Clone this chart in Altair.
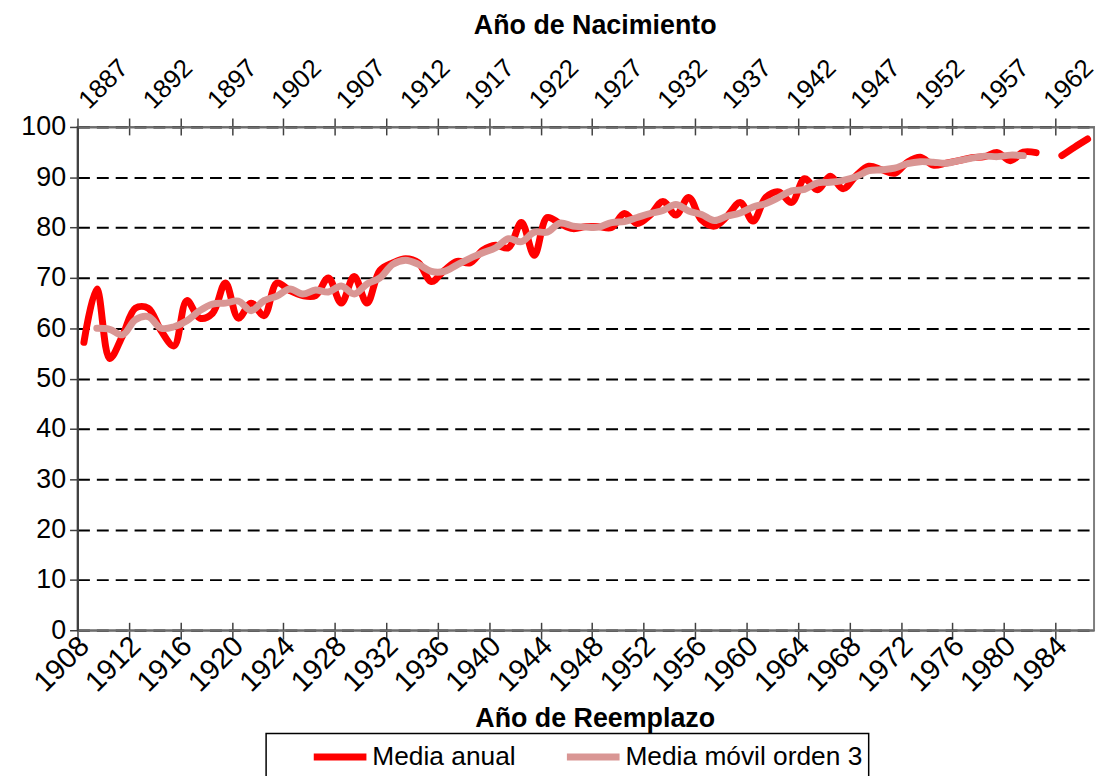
import altair as alt
import pandas as pd

# ---------------- data ----------------
anios = list(range(1908, 1987))
media_anual = [57.2, 67.8, 54.0, 58.5, 64.0, 64.0, 59.5, 56.5, 65.5, 62.0,   # 1908-1917
               63.0, 69.0, 62.0, 65.0, 62.5, 69.0, 67.5, 66.5, 66.5, 70.0,   # 1918-1927
               65.0, 70.3, 65.0, 71.5, 73.0, 73.8, 73.0, 69.3, 71.5, 73.3,   # 1928-1937
               73.0, 75.5, 76.5, 76.0, 81.0, 74.5, 82.0, 80.8, 79.8, 80.2,   # 1938-1947
               80.2, 80.0, 82.8, 80.8, 82.5, 85.2, 82.5, 86.0, 81.5, 80.3,   # 1948-1957
               82.3, 85.0, 81.3, 86.0, 87.1, 85.0, 89.7, 87.5, 90.2, 87.7,   # 1958-1967
               90.3, 92.2, 91.5, 90.8, 93.0, 94.0, 92.4, 92.8, 93.3, 93.9,   # 1968-1977
               94.1, 94.9, 93.3, 95.0, 94.9, None, 94.3, 96.0, 97.6]         # 1978-1986

anios_movil = list(range(1909, 1982))
media_movil = [60.0, 59.8, 58.7, 61.7, 62.3, 60.0, 60.3, 61.5, 63.5,         # 1909-1917
               64.8, 65.0, 65.4, 63.5, 65.5, 66.4, 67.8, 66.8, 67.6, 67.2,   # 1918-1927
               68.4, 66.8, 68.8, 70.0, 72.7, 73.5, 72.7, 71.3, 71.3, 72.6,   # 1928-1937
               73.9, 75.0, 76.0, 77.8, 77.2, 79.1, 79.1, 80.9, 80.3, 80.1,   # 1938-1947
               80.1, 81.0, 81.2, 82.0, 82.8, 83.4, 84.6, 83.3, 82.6, 81.4,   # 1948-1957
               82.3, 82.9, 84.1, 84.8, 86.0, 87.3, 87.6, 88.9, 89.0, 89.4,   # 1958-1967
               90.1, 91.3, 91.5, 91.8, 92.7, 93.1, 93.0, 92.8, 93.3, 93.8,   # 1968-1977
               94.2, 94.1, 94.4, 94.3]                                       # 1978-1981

series = ["Media anual", "Media móvil orden 3"]
colores = ["#FF0000", "#D99694"]

etiquetas_reemplazo = list(range(1908, 1985, 4))
etiquetas_nacimiento = list(range(1908, 1984, 5))   # shown as year - 21
marcas_x = [1907.5 + 4 * k for k in range(20)]
valores_y = list(range(0, 101, 10))

# ---------------- tables ----------------
filas = []
tramo = 0
for a, v in zip(anios, media_anual):
    if v is None:
        tramo += 1
        continue
    filas.append({"anio": a, "valor": v, "serie": series[0], "tramo": tramo})
df_anual = pd.DataFrame(filas)
df_movil = pd.DataFrame({"anio": anios_movil, "valor": media_movil,
                         "serie": series[1], "tramo": 0})

FONT = "Liberation Sans"
xscale = alt.Scale(domain=[1907.5, 1986.5], nice=False, zero=False)
yscale = alt.Scale(domain=[0, 100], nice=False, zero=True)
yaxis = alt.Axis(values=valores_y, title=None, grid=True, gridColor="black",
                 gridDash=[12, 7], gridWidth=2, domainColor="#404040",
                 domainWidth=2, tickColor="#404040", tickSize=8, tickWidth=1.5,
                 labelFontSize=27, labelColor="black", labelPadding=4,
                 labelFont=FONT)
ycod = alt.Y("valor:Q", scale=yscale, axis=yaxis)
color = alt.Color("serie:N", scale=alt.Scale(domain=series, range=colores),
                  legend=alt.Legend(title=None))

eje_inf = alt.Axis(orient="bottom", values=etiquetas_reemplazo, format="d",
                   ticks=False, grid=False, domainColor="#6E6E6E", domainWidth=2,
                   labelAngle=-45, labelAlign="right", labelBaseline="middle",
                   labelFontSize=29, labelColor="black", labelPadding=11,
                   labelFont=FONT, title="Año de Reemplazo", titleFont=FONT,
                   titleFontSize=27, titleFontWeight="bold", titleColor="black",
                   titleX=521, titleY=97, titleAlign="center",
                   titleBaseline="alphabetic", labelOverlap=False, labelBound=False)
eje_sup = alt.Axis(orient="top", values=etiquetas_nacimiento,
                   labelExpr="format(datum.value - 21, 'd')",
                   ticks=False, grid=False, domainColor="#6E6E6E", domainWidth=2,
                   labelAngle=-45, labelAlign="left", labelBaseline="middle",
                   labelFontSize=26, labelColor="black", labelPadding=23,
                   labelOffset=-1,
                   labelFont=FONT, title="Año de Nacimiento", titleFont=FONT,
                   titleFontSize=27, titleFontWeight="bold", titleColor="black",
                   titleX=521, titleY=-94, titleAlign="center",
                   titleBaseline="alphabetic", labelOverlap=False, labelBound=False)
marcas_inf = alt.Axis(orient="bottom", values=marcas_x, labels=False, domain=False,
                      grid=False, tickSize=17, tickWidth=1.5, tickColor="#404040",
                      offset=-8, title=None)
marcas_sup = alt.Axis(orient="top", values=marcas_x, labels=False, domain=False,
                      grid=False, tickSize=17, tickWidth=1.5, tickColor="#404040",
                      offset=-8, title=None)

capa_anual = alt.Chart(df_anual).mark_line(
    interpolate="catmull-rom", strokeWidth=7, strokeCap="round", strokeJoin="round"
).encode(x=alt.X("anio:Q", scale=xscale, axis=eje_inf), y=ycod, color=color,
         detail="tramo:N")

capa_movil = alt.Chart(df_movil).mark_line(
    interpolate="catmull-rom", strokeWidth=7, strokeCap="round", strokeJoin="round"
).encode(x=alt.X("anio:Q", scale=xscale, axis=eje_sup), y=ycod, color=color)

capa_marcas_inf = alt.Chart(df_movil).mark_line(strokeOpacity=0).encode(
    x=alt.X("anio:Q", scale=xscale, axis=marcas_inf), y=ycod)
capa_marcas_sup = alt.Chart(df_movil).mark_line(strokeOpacity=0).encode(
    x=alt.X("anio:Q", scale=xscale, axis=marcas_sup), y=ycod)

chart = alt.layer(capa_marcas_inf, capa_marcas_sup, capa_anual, capa_movil).resolve_axis(
    x="independent"
).properties(
    width=1024, height=507,
    autosize=alt.AutoSizeParams(type="none"),
    padding={"left": 70, "top": 117, "right": 4, "bottom": 144},
).configure(font=FONT).configure_view(
    stroke="#7F7F7F", strokeWidth=2
).configure_legend(
    orient="none", legendX=190, legendY=611, direction="horizontal",
    strokeColor="black", strokeWidth=1.5, fillColor="white", padding=6,
    labelFontSize=26.5, labelFont=FONT, labelColor="black", labelLimit=600,
    symbolType="M1.75,0H5.54", symbolSize=784, symbolStrokeWidth=7,
    symbolOffset=0, labelOffset=66, columnPadding=9
)

chart.save("out.html", embed_options={"renderer": "svg", "actions": False})
